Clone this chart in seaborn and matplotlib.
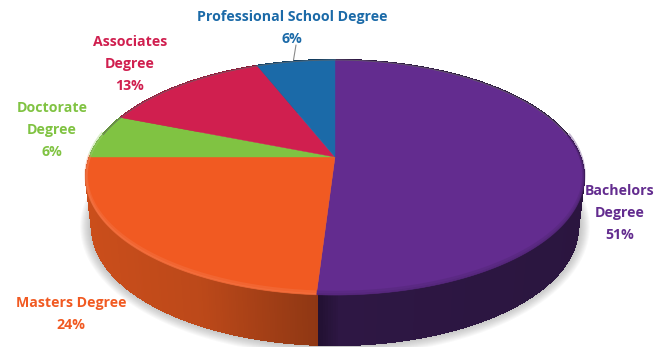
import numpy as np
import matplotlib
matplotlib.use("Agg")
import matplotlib.pyplot as plt
from matplotlib.collections import PolyCollection
from matplotlib.colors import to_rgb
import seaborn as sns

# Share of respondents by highest degree, clockwise from twelve o'clock
degrees = ["Bachelors\nDegree", "Masters Degree", "Doctorate\nDegree",
           "Associates\nDegree", "Professional School Degree"]
shares = [51, 24, 6, 13, 6]
top_colors = ["#632c8f", "#f15a22", "#80c342", "#d01f4f", "#1b6aa8"]
side_colors = ["#2e1744", "#c04a1a", "#5f9431", "#9c173b", "#144f7d"]
label_centers = [(620, 213), (71, 314), (52, 130), (130, 64), (292, 28)]

sns.set_theme(style="white")
plt.rcParams["font.family"] = ["Open Sans", "DejaVu Sans"]

fig = plt.figure(figsize=(6.67, 3.47), dpi=100)
ax = fig.add_axes([0, 0, 1, 1])
ax.set_xlim(0, 667)
ax.set_ylim(347, 0)
ax.axis("off")

CX, CY, RX, RY_NUM, PERSP = 335.0, 157.0, 245.0, 86.5, 0.1745
DEPTH, BOTTOM_SCALE = 50.0, 0.976


def rim(theta):
    """Perspective projection of the disc's rim; theta in degrees clockwise from the top."""
    t = np.radians(theta)
    x, y = np.sin(t), np.cos(t)
    w = 1 + PERSP * y
    return CX + RX * x / w, (CY - RY_NUM * y) / w


def lower_rim(theta):
    x, y = rim(theta)
    return CX + BOTTOM_SCALE * (x - CX), y + DEPTH


edges = np.concatenate([[0], np.cumsum(shares)]) * 3.6

# Soft drop shadow under the disc
all_t = np.linspace(0, 360, 361)
bx, by = lower_rim(all_t)
for grow in np.linspace(12, 1, 12):
    sx = CX + (bx - CX) * (1 + grow / 245)
    sy = 226 + (by - 226) * (1 + grow / 118) - 1
    ax.fill(sx, sy, color="#555555", alpha=0.035, lw=0, zorder=1)

# Side wall, shaded from left to right
for start, stop, col in zip(edges[:-1], edges[1:], side_colors):
    ts = np.linspace(start, stop, max(int((stop - start) * 2), 2))
    quads, cols = [], []
    base = np.array(to_rgb(col))
    for a, b in zip(ts[:-1], ts[1:]):
        xa, ya = rim(a)
        xb, yb = rim(b)
        xc, yc = lower_rim(b)
        xd, yd = lower_rim(a)
        quads.append([(xa, ya), (xb, yb), (xc, yc), (xd, yd)])
        # Lit from the left: brighter on the left half of the wall
        shade = np.interp(xa, [90, 200, 320, 340, 580], [1.05, 0.98, 0.74, 1.0, 0.93])
        cols.append(np.clip(base * shade, 0, 1))
    ax.add_collection(PolyCollection(quads, facecolors=cols, edgecolors=cols,
                                     linewidths=1.0, antialiased=False, zorder=2))

# Top face
for start, stop, col in zip(edges[:-1], edges[1:], top_colors):
    ts = np.linspace(start, stop, 200)
    rx, ry = rim(ts)
    ax.fill(np.r_[CX, rx], np.r_[CY, ry], color=col, lw=0.3, zorder=3)

# Bevel along the front edge and hairline along the far edge
for start, stop, col, wall in zip(edges[:-1], edges[1:], top_colors, side_colors):
    ts = np.linspace(start, stop, 200)
    rx, ry = rim(ts)
    front = np.cos(np.radians(ts)) < 0.2
    if front.any():
        rgb = np.array(to_rgb(col))
        # Warm faces catch a highlight; the purple one rolls off into its wall
        edge_tone = rgb * 0.8 + 0.2 if sum(rgb) > 1.2 else rgb * 0.6 + np.array(to_rgb(wall)) * 0.4
        ax.plot(rx[front], ry[front] - 2.5, color=edge_tone, lw=2.5, alpha=0.35,
                solid_capstyle="butt", zorder=4)
        ax.plot(rx[front], ry[front] - 0.5, color=edge_tone, lw=1.5, alpha=0.45,
                solid_capstyle="butt", zorder=4)
    back = np.cos(np.radians(ts)) > 0.2
    if back.any():
        ax.plot(rx[back], ry[back], color="#666666", lw=0.7, alpha=0.7, zorder=4)

# Labels
for name, value, col, (lx, ly) in zip(degrees, shares, top_colors, label_centers):
    ax.text(lx, ly, f"{name}\n{value}%", color=col, ha="center", va="center",
            fontsize=10.2, fontweight="bold", linespacing=1.72, zorder=5)

# Leader line for the professional school label
ax.plot([296, 293.5], [45, 60], color="#8a8a8a", lw=0.8, zorder=5)

fig.savefig("out.png", dpi=100)
